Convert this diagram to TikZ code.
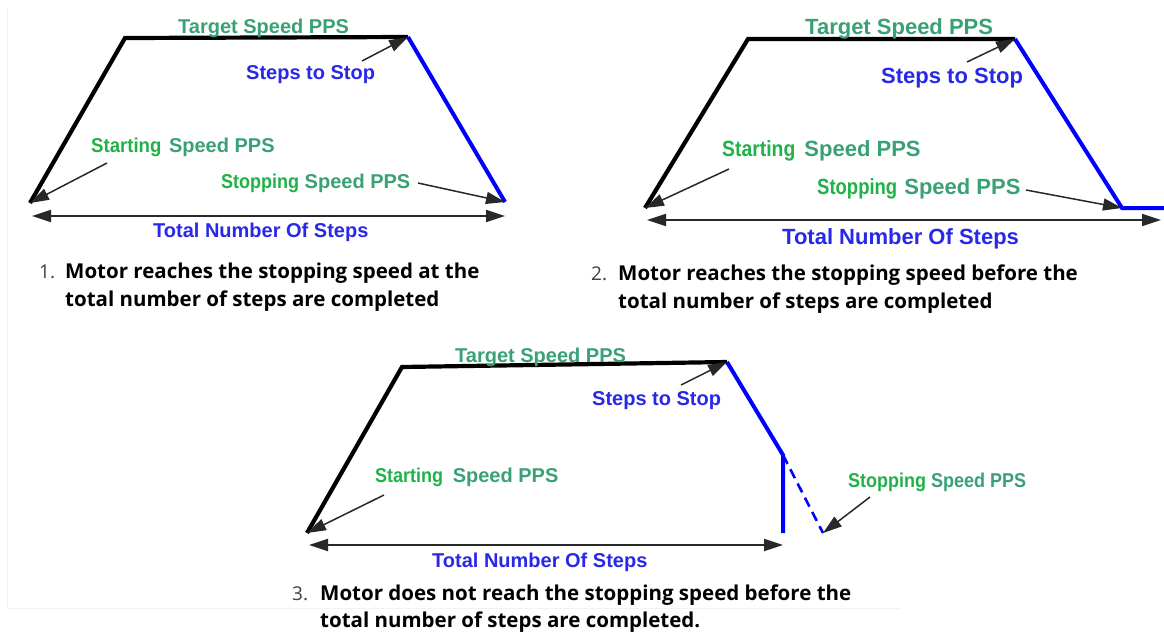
\documentclass[tikz,border=0pt]{standalone}
\usepackage{fontspec}
\setmainfont{Liberation Sans}
\newfontfamily\capfont{Open Sans}
\usetikzlibrary{arrows.meta}
\definecolor{tealgreen}{RGB}{58,160,118}
\definecolor{brightgreen}{RGB}{32,178,72}
\definecolor{txtblue}{RGB}{40,40,232}
\definecolor{lineblue}{RGB}{0,0,255}
\definecolor{ptr}{RGB}{40,40,40}
\tikzset{
  profile/.style={line width=4.2pt, black, line join=miter},
  descent/.style={line width=4pt, lineblue},
  pointer/.style={line width=1.5pt, ptr, -{Triangle[length=19pt,width=12pt]}},
  spanarrow/.style={line width=2pt, ptr, {Triangle[length=19pt,width=12pt]}-{Triangle[length=19pt,width=12pt]}},
  lbl/.style={font=\fontsize{20}{24}\selectfont\bfseries, inner sep=0pt, anchor=base west},
  lblbig/.style={font=\fontsize{22}{26}\selectfont\bfseries, inner sep=0pt, anchor=base west},
  captext/.style={font=\capfont\fontsize{20.5}{24}\selectfont\bfseries, inner sep=0pt, anchor=base west, text=black},
  numtext/.style={font=\capfont\fontsize{19}{24}\selectfont, inner sep=0pt, anchor=base west, text=black!75},
}
\newcommand{\spd}{\textcolor{tealgreen}{Speed PPS}}
\newcommand{\gw}[2]{\textcolor{brightgreen}{\scalebox{#1}[1]{#2}}}
\begin{document}
\begin{tikzpicture}[x=1pt,y=-1pt]
\useasboundingbox (0,0) rectangle (1164,633);
\fill[white] (0,0) rectangle (1164,633);
\draw[gray!10, line width=0.8pt] (7,8) -- (7,608) -- (900,608);

% ---------- Diagram 1 ----------
\coordinate (a0) at (30,203);
\coordinate (a1) at (125,38);
\coordinate (a2) at (408,37);
\coordinate (a3) at (505,202);
\draw[profile] (a0) -- (a1) -- (a2);
\draw[descent] (a2) -- (a3);
\node[lbl, text=tealgreen] (atarget) at (178,33) {Target Speed PPS};
\node[lbl, text=txtblue] (asteps) at (246,79) {Steps to Stop};
\node[lbl] (astart) at (91,152) {\gw{0.93}{Starting}\hspace{2pt} \spd};
\node[lbl] (astop) at (221,188) {\gw{0.9}{Stopping}\ \spd};
\node[lbl, text=txtblue] (atotal) at (153,237) {Total Number Of Steps};
\coordinate (asp) at (362,61);
\coordinate (asq) at (107,163);
\coordinate (asr) at (418,183);
\draw[pointer] (asp) -- (a2);
\draw[pointer] (asq) -- (a0);
\draw[pointer] (asr) -- (a3);
\coordinate (al) at (32,216);
\coordinate (ar) at (505,216);
\draw[spanarrow] (al) -- (ar);
\node[numtext] (anum) at (39,278) {1.};
\node[captext] (acap1) at (65,278) {Motor reaches the stopping speed at the};
\node[captext] (acap2) at (65,306) {total number of steps are completed};

% ---------- Diagram 2 ----------
\coordinate (b0) at (645,208);
\coordinate (b1) at (748,39);
\coordinate (b2) at (1015,39);
\coordinate (b3) at (1122,208);
\coordinate (b4) at (1164,208);
\draw[profile] (b0) -- (b1) -- (b2);
\draw[descent] (b2) -- (b3) -- (b4);
\node[lblbig, text=tealgreen] (btarget) at (805,34) {Target Speed PPS};
\node[lblbig, text=txtblue] (bsteps) at (881,83) {Steps to Stop};
\node[lblbig] (bstart) at (722,156) {\gw{0.88}{Starting}\hspace{3pt} \spd};
\node[lblbig] (bstop) at (817,194) {\gw{0.84}{Stopping}\hspace{1pt} \spd};
\node[lblbig, text=txtblue] (btotal) at (782,244) {Total Number Of Steps};
\coordinate (bsp) at (967,62);
\coordinate (bsq) at (729,169);
\coordinate (bsr) at (1026,190);
\draw[pointer] (bsp) -- (b2);
\draw[pointer] (bsq) -- (b0);
\draw[pointer] (bsr) -- (b3);
\coordinate (bl) at (647,220);
\coordinate (br) at (1161,220);
\draw[spanarrow] (bl) -- (br);
\node[numtext] (bnum) at (591,280) {2.};
\node[captext] (bcap1) at (618,280) {Motor reaches the stopping speed before the};
\node[captext] (bcap2) at (618,308) {total number of steps are completed};

% ---------- Diagram 3 ----------
\coordinate (c0) at (307,533);
\coordinate (c1) at (402,367);
\coordinate (c2) at (727,362);
\coordinate (c3) at (783,455);
\coordinate (c4) at (783,533);
\coordinate (c5) at (823,533);
\draw[profile] (c0) -- (c1) -- (c2);
\draw[descent] (c2) -- (c3) -- (c4);
\draw[descent, line width=2.6pt, dash pattern=on 10pt off 6pt] (c3) -- (c5);
\node[lbl, text=tealgreen] (ctarget) at (455,362) {Target Speed PPS};
\node[lbl, text=txtblue] (csteps) at (592,405) {Steps to Stop};
\node[lbl] (cstart) at (375,482) {\gw{0.9}{Starting}\hspace{4pt} \spd};
\node[lbl] (cstop) at (848,487) {\scalebox{0.9}[1]{\textcolor{brightgreen}{Stopping} \spd}};
\node[lbl, text=txtblue] (ctotal) at (432,567) {Total Number Of Steps};
\coordinate (csp) at (681,385);
\coordinate (csq) at (384,495);
\coordinate (csr) at (870,497);
\draw[pointer] (csp) -- (c2);
\draw[pointer] (csq) -- (c0);
\draw[pointer] (csr) -- (c5);
\coordinate (cl) at (309,545);
\coordinate (cr) at (783,545);
\draw[spanarrow] (cl) -- (cr);
\node[numtext] (cnum) at (292,600) {3.};
\node[captext] (ccap1) at (320,600) {Motor does not reach the stopping speed before the};
\node[captext] (ccap2) at (320,627) {total number of steps are completed.};
\end{tikzpicture}
\end{document}
